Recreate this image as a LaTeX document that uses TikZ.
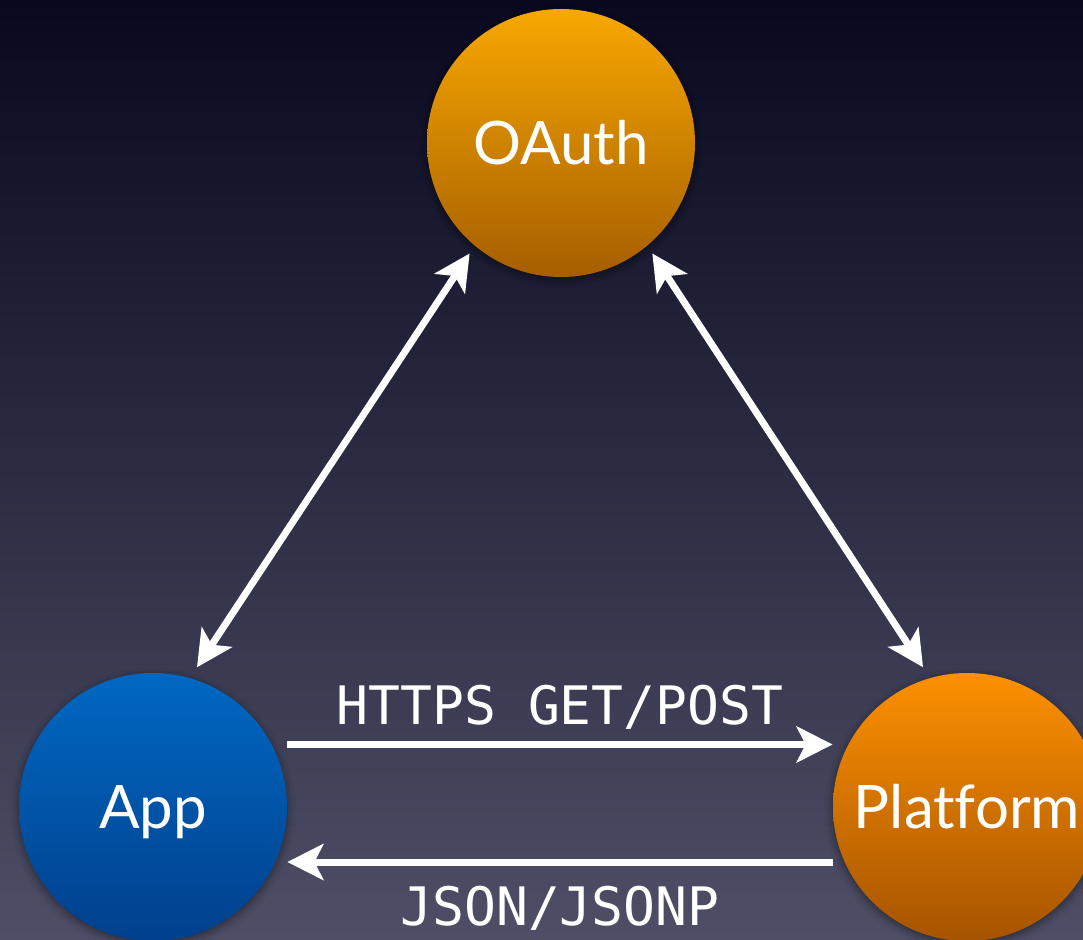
\documentclass[tikz,border=0pt]{standalone}
\usepackage{fontspec}
\setmainfont{Lato}[Ligatures=NoCommon]
\setmonofont{DejaVu Sans Mono}
\usetikzlibrary{
  arrows.meta,  % Stealth 箭头样式
  shadows.blur  % 圆形节点的柔和阴影
}
\definecolor{bgtop}{HTML}{08081F}
\definecolor{bgmid}{HTML}{282A4A}
\definecolor{bgbot}{HTML}{4E4E66}
\definecolor{authtop}{HTML}{F7A800}
\definecolor{authbot}{HTML}{A65E00}
\definecolor{plattop}{HTML}{FC9000}
\definecolor{platbot}{HTML}{A65400}
\definecolor{apptop}{HTML}{0068C2}
\definecolor{appbot}{HTML}{00408C}
\tikzset{
  party/.style={
    circle,
    minimum size=134pt,
    inner sep=0pt,
    text=white,
    font=\fontsize{30}{36}\selectfont,
    text height=21.5pt,
    text depth=0pt,
    blur shadow={shadow xshift=0pt, shadow yshift=-1.5pt,
                 shadow blur radius=4pt, shadow opacity=45}
  },
  auth party/.style={party, top color=authtop, bottom color=authbot},
  plat party/.style={party, top color=plattop, bottom color=platbot},
  app party/.style={party, top color=apptop, bottom color=appbot},
  link/.style={
    draw=white,
    line width=3.5pt,
    -{Stealth[length=18pt, width=18pt, inset=4.5pt]}
  },
  both link/.style={
    link,
    {Stealth[length=18pt, width=18pt, inset=4.5pt]}-{Stealth[length=18pt, width=18pt, inset=4.5pt]}
  },
  wire label/.style={
    text=white,
    anchor=base,
    font=\ttfamily\fontsize{26.5}{32}\selectfont
  }
}
\begin{document}
\begin{tikzpicture}[x=0.5pt, y=0.5pt] % 以像素为单位：先铺渐变背景，再放三个圆，最后连箭头

  % 画布与背景
  \useasboundingbox (0,0) rectangle (1083,939); % 固定画布尺寸
  \clip (0,0) rectangle (1083,939); % 右侧与底部的圆被裁掉
  \shade[top color=bgtop, middle color=bgmid, bottom color=bgbot] (0,0) rectangle (1083,939); % 深蓝到灰蓝的竖向渐变

  % 三个圆
  \node[auth party] (oauth) at (561,796) {OAuth}; % 顶部授权服务
  \node[app party] (app) at (153,132) {App}; % 左下应用
  \node[plat party] (plat) at (967,132) {Platform}; % 右下平台

  % 斜向双向箭头
  \draw[both link, shorten <=6.3pt, shorten >=4.5pt] (app.74) -- (oauth.230); % App 与 OAuth
  \draw[both link, shorten <=6.3pt, shorten >=4.5pt] (plat.106) -- (oauth.310); % Platform 与 OAuth

  % 水平请求与响应
  \draw[link] ([yshift=31.25pt]app.east) -- ([yshift=31.25pt]app.east -| plat.west)
    node[midway, wire label, yshift=10.25pt] (req) {HTTPS GET/POST}; % 请求
  \draw[link] ([yshift=-27.5pt]plat.west) -- ([yshift=-27.5pt]plat.west -| app.east)
    node[midway, wire label, yshift=-31.5pt] (resp) {JSON/JSONP}; % 响应

\end{tikzpicture}
\end{document}
